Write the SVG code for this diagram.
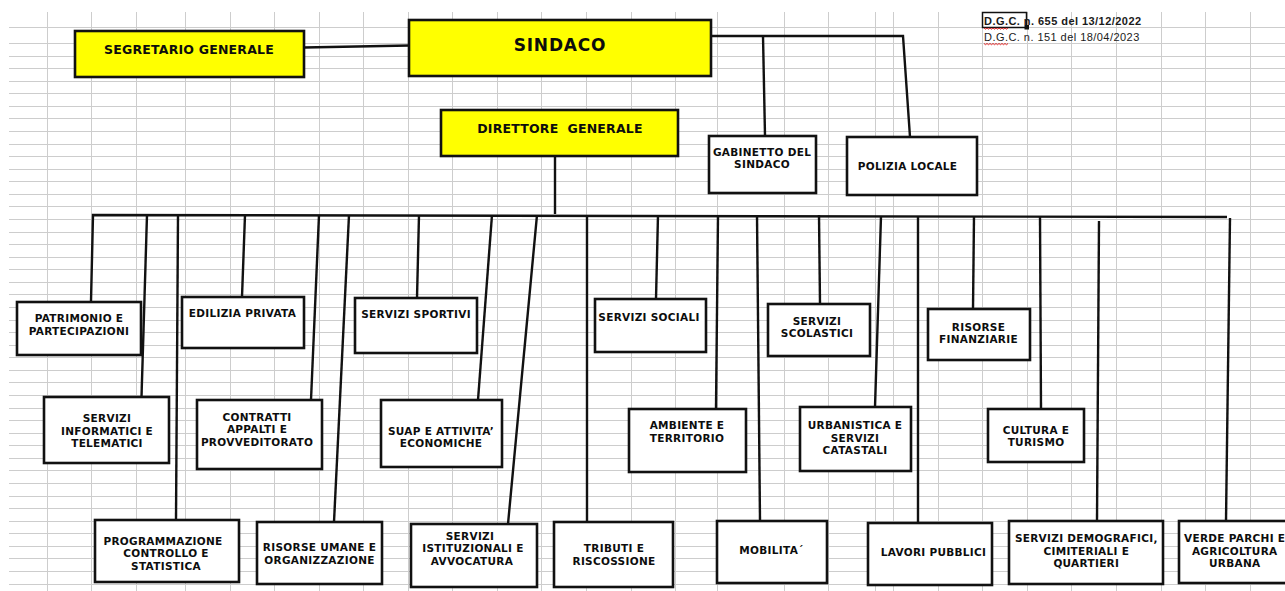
<svg xmlns="http://www.w3.org/2000/svg" width="1285" height="591" viewBox="0 0 1285 591">
<style>
.grid{stroke:#cdcdcd;stroke-width:1;fill:none}
.box{fill:#fff;stroke:#111;stroke-width:2.6}
.yel{fill:#ffff00;stroke:#111;stroke-width:2.6}
.t{font-family:"DejaVu Sans",Verdana,sans-serif;font-weight:bold;font-size:10.5px;letter-spacing:0.3px;fill:#0d0d0d;text-anchor:middle}
.big{font-size:12.5px;letter-spacing:0.2px}
.huge{font-size:17px;letter-spacing:0.8px}
.c{stroke:#111;stroke-width:2.4;fill:none;stroke-linejoin:miter}
.note{font-family:"Liberation Sans",Arial,sans-serif;font-size:11px;letter-spacing:0.45px;fill:#1a1a1a}
.wavy{stroke:#e02020;stroke-width:1;fill:none}
</style>
<rect width="1285" height="591" fill="#fff"/>
<g id="grid">
<path class="grid" d="M9 27.5H1285M9 43.5H1285M9 56.5H1285M9 68.5H1285M9 81.5H1285M9 93.5H1285M9 106.5H1285M9 118.5H1285M9 131.5H1285M9 144.5H1285M9 156.5H1285M9 169.5H1285M9 181.5H1285M9 194.5H1285M9 206.5H1285M9 219.5H1285M9 232.5H1285M9 244.5H1285M9 257.5H1285M9 269.5H1285M9 282.5H1285M9 294.5H1285M9 307.5H1285M9 320.5H1285M9 332.5H1285M9 345.5H1285M9 357.5H1285M9 370.5H1285M9 382.5H1285M9 395.5H1285M9 408.5H1285M9 420.5H1285M9 433.5H1285M9 445.5H1285M9 458.5H1285M9 470.5H1285M9 483.5H1285M9 496.5H1285M9 508.5H1285M9 521.5H1285M9 533.5H1285M9 546.5H1285M9 558.5H1285M9 571.5H1285M9 584.5H1285"/>
<path class="grid" d="M47.5 12V591M91.5 12V591M136.5 12V591M185.5 12V591M230.5 12V591M274.5 12V591M319.5 12V591M363.5 12V591M408.5 12V591M452.5 12V591M497.5 12V591M541.5 12V591M586.5 12V591M631.5 12V591M675.5 12V591M717.5 12V591M784.5 12V591M828.5 12V591M875.5 12V591M893.5 12V591M938.5 12V591M982.5 12V591M1027.5 12V591M1071.5 12V591M1116.5 12V591M1161.5 12V591M1205.5 12V591M1250.5 12V591"/>
</g>
<g id="connectors">
<path class="c" d="M304 47.5L409 45.5"/>
<path class="c" d="M711 36H903L910 137"/>
<path class="c" d="M763 36L765 136"/>
<path class="c" d="M555 156V214"/>
<path class="c" d="M91 301L93 215L1227 217"/>
<path class="c" d="M147 215L141.5 397"/>
<path class="c" d="M178 215L176 520"/>
<path class="c" d="M245 215L242 297"/>
<path class="c" d="M319 215L311 400"/>
<path class="c" d="M349 215L334 522"/>
<path class="c" d="M419 215L417 298"/>
<path class="c" d="M492 215L478 400"/>
<path class="c" d="M537 215L508 524"/>
<path class="c" d="M587 215V522"/>
<path class="c" d="M658 215L656 299"/>
<path class="c" d="M718 215L716 409"/>
<path class="c" d="M757 215L760 521"/>
<path class="c" d="M819 215L820 304"/>
<path class="c" d="M881 216L875 407"/>
<path class="c" d="M918 216V523"/>
<path class="c" d="M974 216L973 309"/>
<path class="c" d="M1040 216L1041 409"/>
<path class="c" d="M1099 221L1097 521"/>
<path class="c" d="M1230 218L1226 521"/>
</g>
<g id="note">
<rect x="982.5" y="12.5" width="44" height="15" fill="none" stroke="#111" stroke-width="1.5"/>
<rect x="1024.5" y="25" width="4.5" height="4.5" fill="#111"/>
<text class="note" x="984" y="25" font-weight="bold">D.G.C. n. 655 del 13/12/2022</text>
<text class="note" x="984" y="40.5">D.G.C. n. 151 del 18/04/2023</text>
<path class="wavy" d="M984 28l1.5 1.2l1.5-1.2l1.5 1.2l1.5-1.2l1.5 1.2l1.5-1.2l1.5 1.2l1.5-1.2l1.5 1.2l1.5-1.2l1.5 1.2l1.5-1.2l1.5 1.2l1.5-1.2l1.5 1.2l1.5-1.2"/>
<path class="wavy" d="M984 43.5l1.5 1.2l1.5-1.2l1.5 1.2l1.5-1.2l1.5 1.2l1.5-1.2l1.5 1.2l1.5-1.2l1.5 1.2l1.5-1.2l1.5 1.2l1.5-1.2l1.5 1.2l1.5-1.2l1.5 1.2l1.5-1.2"/>
</g>
<g id="segretario"><rect class="yel" x="75" y="31" width="229" height="46"/><text class="t big" x="189" y="53.5">SEGRETARIO GENERALE</text></g>
<g id="sindaco"><rect class="yel" x="409" y="20" width="302" height="56"/><text class="t huge" x="560" y="50.5">SINDACO</text></g>
<g id="direttore"><rect class="yel" x="441" y="110" width="237" height="46"/><text class="t big" x="560" y="133" xml:space="preserve">DIRETTORE  GENERALE</text></g>
<g id="gabinetto"><rect class="box" x="709" y="136" width="107" height="57"/><text class="t" x="762" y="156"><tspan x="762">GABINETTO DEL</tspan><tspan x="762" y="168">SINDACO</tspan></text></g>
<g id="polizia"><rect class="box" x="847" y="137" width="130" height="58"/><text class="t" x="907.5" y="169.5">POLIZIA LOCALE</text></g>
<g id="patrimonio"><rect class="box" x="17" y="302" width="124" height="53"/><text class="t" x="79" y="322"><tspan x="79">PATRIMONIO E</tspan><tspan x="79" y="334.8">PARTECIPAZIONI</tspan></text></g>
<g id="edilizia"><rect class="box" x="182" y="297" width="122" height="51"/><text class="t" x="242.5" y="317">EDILIZIA PRIVATA</text></g>
<g id="sportivi"><rect class="box" x="355" y="298" width="122" height="55"/><text class="t" x="416" y="318">SERVIZI SPORTIVI</text></g>
<g id="sociali"><rect class="box" x="595" y="299" width="111" height="53"/><text class="t" x="649" y="320.5">SERVIZI SOCIALI</text></g>
<g id="scolastici"><rect class="box" x="768" y="304" width="102" height="52"/><text class="t" x="817" y="324.8"><tspan x="817">SERVIZI</tspan><tspan x="817" y="337">SCOLASTICI</tspan></text></g>
<g id="finanziarie"><rect class="box" x="928" y="309" width="102" height="51"/><text class="t" x="978.5" y="330.8"><tspan x="978.5">RISORSE</tspan><tspan x="978.5" y="342.8">FINANZIARIE</tspan></text></g>
<g id="informatici"><rect class="box" x="44" y="397" width="125" height="66"/><text class="t" x="107" y="421.5"><tspan x="107">SERVIZI</tspan><tspan x="107" y="434.5">INFORMATICI E</tspan><tspan x="107" y="447">TELEMATICI</tspan></text></g>
<g id="contratti"><rect class="box" x="197" y="400" width="125" height="69"/><text class="t" x="257" y="420.5"><tspan x="257">CONTRATTI</tspan><tspan x="257" y="433">APPALTI E</tspan><tspan x="257" y="445.8">PROVVEDITORATO</tspan></text></g>
<g id="suap"><rect class="box" x="381" y="400" width="121" height="67"/><text class="t" x="441" y="434.5"><tspan x="441">SUAP E ATTIVITA’</tspan><tspan x="441" y="447">ECONOMICHE</tspan></text></g>
<g id="ambiente"><rect class="box" x="629" y="409" width="117" height="63"/><text class="t" x="687" y="428.8"><tspan x="687">AMBIENTE E</tspan><tspan x="687" y="441.5">TERRITORIO</tspan></text></g>
<g id="urbanistica"><rect class="box" x="800" y="407" width="111" height="64"/><text class="t" x="855" y="428.8"><tspan x="855">URBANISTICA E</tspan><tspan x="855" y="441.5">SERVIZI</tspan><tspan x="855" y="453.8">CATASTALI</tspan></text></g>
<g id="cultura"><rect class="box" x="988" y="409" width="96" height="53"/><text class="t" x="1036" y="433.8"><tspan x="1036">CULTURA E</tspan><tspan x="1036" y="445.8">TURISMO</tspan></text></g>
<g id="programmazione"><rect class="box" x="95" y="520" width="144" height="62"/><text class="t" x="165" y="544.5"><tspan x="163">PROGRAMMAZIONE</tspan><tspan x="166" y="557">CONTROLLO E</tspan><tspan x="166" y="569.5">STATISTICA</tspan></text></g>
<g id="risorse-umane"><rect class="box" x="257" y="522" width="125" height="62"/><text class="t" x="319.5" y="551"><tspan x="319.5">RISORSE UMANE E</tspan><tspan x="319.5" y="563.8">ORGANIZZAZIONE</tspan></text></g>
<g id="istituzionali"><rect class="box" x="411" y="524" width="126" height="63"/><text class="t" x="472" y="539.8"><tspan x="470">SERVIZI</tspan><tspan x="473" y="552">ISTITUZIONALI E</tspan><tspan x="472" y="564.5">AVVOCATURA</tspan></text></g>
<g id="tributi"><rect class="box" x="554" y="522" width="119" height="65"/><text class="t" x="614" y="552"><tspan x="614">TRIBUTI E</tspan><tspan x="614" y="564.8">RISCOSSIONE</tspan></text></g>
<g id="mobilita"><rect class="box" x="717" y="521" width="110" height="62"/><text class="t" x="771.5" y="553.8">MOBILITA´</text></g>
<g id="lavori"><rect class="box" x="868" y="523" width="124" height="62"/><text class="t" x="933.5" y="556">LAVORI PUBBLICI</text></g>
<g id="demografici"><rect class="box" x="1009" y="521" width="154" height="63"/><text class="t" x="1086.3" y="542"><tspan x="1086.3">SERVIZI DEMOGRAFICI,</tspan><tspan x="1086.3" y="554.8">CIMITERIALI E</tspan><tspan x="1086.3" y="567">QUARTIERI</tspan></text></g>
<g id="verde"><rect class="box" x="1179" y="521" width="115" height="62"/><text class="t" x="1234.7" y="542"><tspan x="1234.7">VERDE PARCHI E</tspan><tspan x="1234.7" y="554.5">AGRICOLTURA</tspan><tspan x="1234.7" y="567">URBANA</tspan></text></g>
</svg>
